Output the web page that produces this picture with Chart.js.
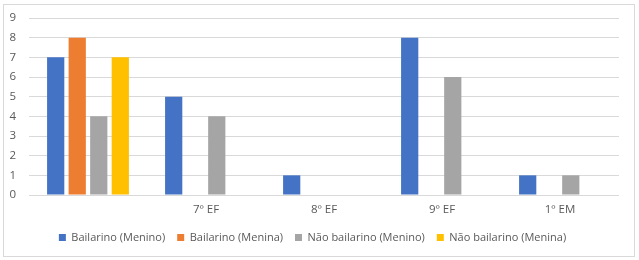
<!DOCTYPE html>
<html>
<head>
<meta charset="utf-8">
<script src="https://cdn.jsdelivr.net/npm/chart.js@4"></script>
<style>
  body { margin: 0; background: #fff; }
  #box { position: absolute; left: 3px; top: 4px; width: 630px; height: 251px; border: 1px solid #D9D9D9; }
  canvas { display: block; }
</style>
</head>
<body>
<div id="box"><canvas id="chart" width="630" height="251"></canvas></div>
<script>
// Chart data
const categories = ['', '7º EF', '8º EF', '9º EF', '1º EM'];
const bailarinoMenino = [7, 5, 1, 8, 1];
const bailarinoMenina = [8, 0, 0, 0, 0];
const naoBailarinoMenino = [4, 4, 0, 6, 1];
const naoBailarinoMenina = [7, 0, 0, 0, 0];
const yTicks = [0, 1, 2, 3, 4, 5, 6, 7, 8, 9];

const tickFont = { family: 'Open Sans', size: 11.5 };
const legendFont = { family: 'Open Sans', size: 11 };
const textColor = '#595959';

const ctx = document.getElementById('chart').getContext('2d');
new Chart(ctx, {
    type: 'bar',
    data: {
        labels: categories,
        datasets: [
            { label: 'Bailarino (Menino)', data: bailarinoMenino, backgroundColor: '#4472C4' },
            { label: 'Bailarino (Menina)', data: bailarinoMenina, backgroundColor: '#ED7D31' },
            { label: 'Não bailarino (Menino)', data: naoBailarinoMenino, backgroundColor: '#A5A5A5' },
            { label: 'Não bailarino (Menina)', data: naoBailarinoMenina, backgroundColor: '#FFC000' }
        ]
    },
    options: {
        responsive: false,
        animation: false,
        layout: { padding: { left: 2, right: 15, top: 13, bottom: 3 } },
        datasets: {
            bar: { categoryPercentage: 0.73, barPercentage: 0.8 }
        },
        scales: {
            x: {
                grid: { display: false, drawTicks: false },
                border: { display: false },
                ticks: { color: textColor, font: tickFont, padding: 8 },
                afterFit: axis => { axis.height = 25; }
            },
            y: {
                min: 0,
                max: 9,
                afterBuildTicks: axis => { axis.ticks = yTicks.map(v => ({ value: v })); },
                // invisible tick marks keep the labels away from the plot
                grid: { color: '#D9D9D9', tickColor: 'rgba(0,0,0,0)', tickLength: 10 },
                border: { display: false },
                ticks: { color: textColor, font: tickFont, padding: 3 },
                afterFit: axis => { axis.width = 23; }
            }
        },
        plugins: {
            legend: {
                position: 'bottom',
                labels: { color: textColor, font: legendFont, boxWidth: 7, boxHeight: 7, padding: 12 }
            },
            tooltip: { enabled: false }
        }
    }
});
</script>
</body>
</html>
